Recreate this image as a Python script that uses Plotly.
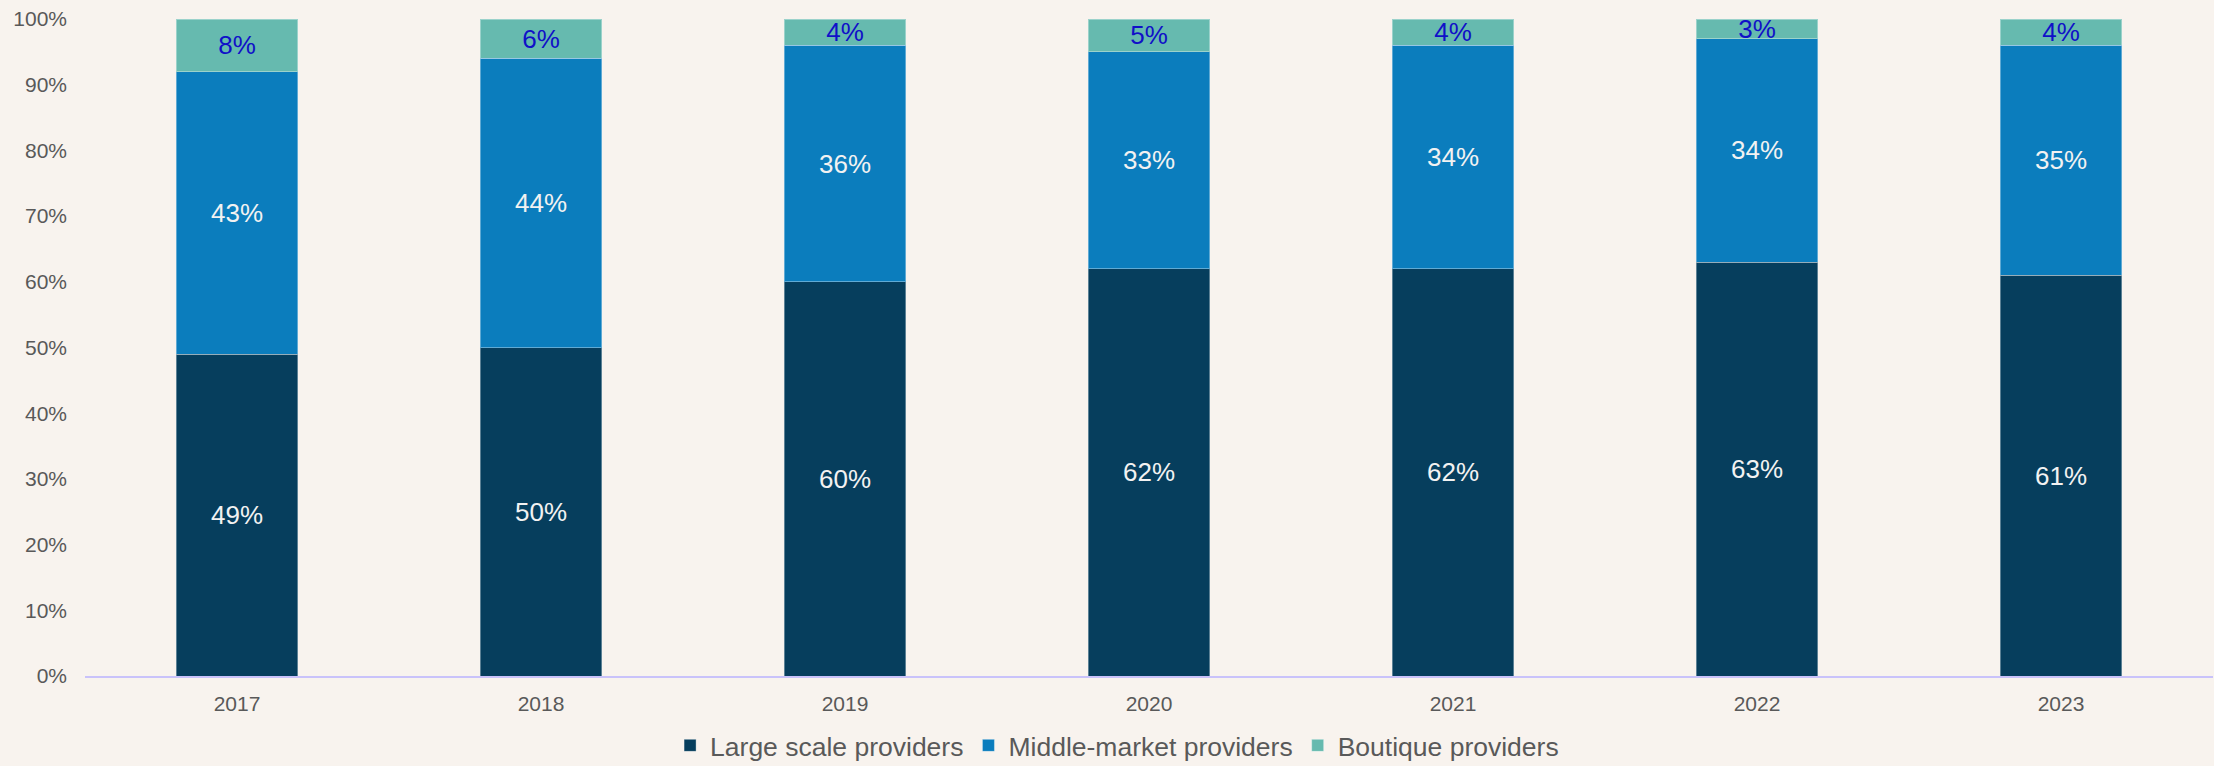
import plotly.graph_objects as go

years = ["2017", "2018", "2019", "2020", "2021", "2022", "2023"]
large_scale = [49, 50, 60, 62, 62, 63, 61]
middle_market = [43, 44, 36, 33, 34, 34, 35]
boutique = [8, 6, 4, 5, 4, 3, 4]

series = [
    ("Large scale providers", large_scale, "#063E5D", "#F2F2F2"),
    ("Middle-market providers", middle_market, "#0B7DBD", "#F2F2F2"),
    ("Boutique providers", boutique, "#66BAAF", "#1010C8"),
]

fig = go.Figure()
for name, vals, color, tcolor in series:
    fig.add_trace(go.Bar(
        x=years, y=vals, name=name,
        marker=dict(color=color, line=dict(color="rgba(255,255,255,0.35)", width=1)),
        text=[f"{v}%" for v in vals],
        textposition="inside", insidetextanchor="middle",
        constraintext="none",
        textfont=dict(color=tcolor, size=26, family="Liberation Sans, Arial, sans-serif"),
    ))

fig.update_layout(
    barmode="stack",
    bargap=0.6,
    width=2214, height=766,
    paper_bgcolor="#F8F3EE", plot_bgcolor="#F8F3EE",
    margin=dict(l=85, r=1, t=19, b=90, autoexpand=False),
    font=dict(family="Liberation Sans, Arial, sans-serif", color="#595959", size=21),
    legend=dict(orientation="h", x=0.485, xanchor="center", y=-0.106, yanchor="middle",
                font=dict(size=26.5, color="#595959"), traceorder="normal",
                itemwidth=30, bgcolor="rgba(0,0,0,0)"),
    showlegend=True,
    uniformtext=dict(mode=False),
)
fig.update_xaxes(showline=True, linecolor="#C9C2FA", linewidth=2, showgrid=False,
                 ticks="", tickfont=dict(size=21, color="#595959"), ticklabelstandoff=8)
fig.update_yaxes(range=[0, 100], dtick=10, ticksuffix="%", showgrid=False, zeroline=False,
                 showline=False, tickfont=dict(size=21, color="#595959"), ticklabelstandoff=17)

fig.write_html(
    "out.html",
    config={"displayModeBar": False},
    post_script="document.body.style.margin='0';document.body.style.padding='0';"
                "document.body.style.background='#F8F3EE';",
)
